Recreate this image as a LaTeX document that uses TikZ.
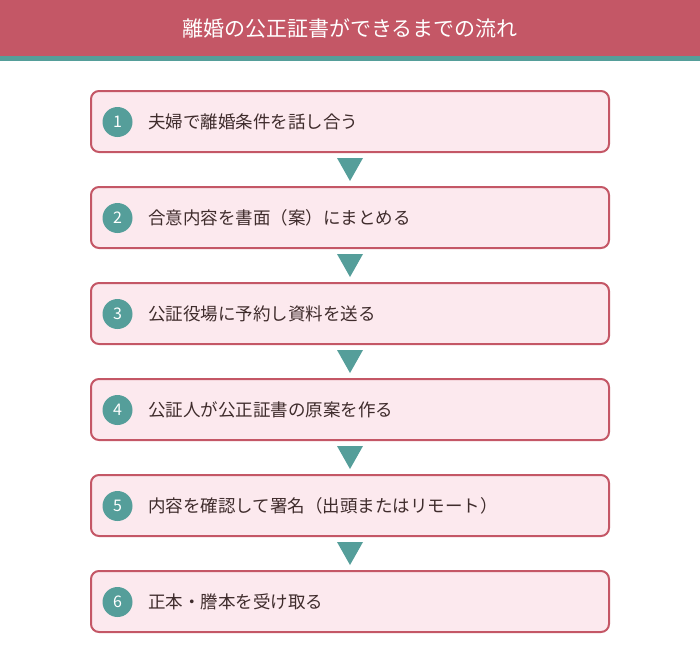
\documentclass[tikz,border=0pt]{standalone}
\usepackage{fontspec}
\setmainfont{Noto Sans CJK JP}
\definecolor{rose}{HTML}{C45766}
\definecolor{sea}{HTML}{559E9A}
\definecolor{blush}{HTML}{FCE9EE}
\definecolor{ink}{HTML}{3F2C2C}

\begin{document}
\begin{tikzpicture}[x=1pt,y=-1pt,
  box/.style={draw=rose,fill=blush,line width=2pt,rounded corners=8pt,minimum width=518pt,minimum height=61pt},
  num/.style={circle,fill=sea,minimum size=30pt,inner sep=0pt,text=white,font=\fontsize{16}{16}\selectfont},
  lbl/.style={anchor=west,inner sep=0pt,text=ink,font=\fontsize{17.5}{17.5}\selectfont},
  tri/.style={fill=sea}]
\useasboundingbox (0,0) rectangle (700,662);
\fill[rose] (0,0) rectangle (700,56);
\fill[sea] (0,56) rectangle (700,61);
\node[text=white,font=\fontsize{21}{21}\selectfont] (title) at (350,29) {離婚の公正証書ができるまでの流れ};
\node[box] (b1) at (350,121.5) {};
\node[box] (b2) at (350,217.5) {};
\node[box] (b3) at (350,313.5) {};
\node[box] (b4) at (350,409.5) {};
\node[box] (b5) at (350,505.5) {};
\node[box] (b6) at (350,601.5) {};
\node[num] (n1) at (117.5,122) {1};
\node[num] (n2) at (117.5,218) {2};
\node[num] (n3) at (117.5,314) {3};
\node[num] (n4) at (117.5,410) {4};
\node[num] (n5) at (117.5,506) {5};
\node[num] (n6) at (117.5,602) {6};
\node[lbl] (t1) at (148,122) {夫婦で離婚条件を話し合う};
\node[lbl] (t2) at (148,218) {合意内容を書面（案）にまとめる};
\node[lbl] (t3) at (148,314) {公証役場に予約し資料を送る};
\node[lbl] (t4) at (148,410) {公証人が公正証書の原案を作る};
\node[lbl] (t5) at (148,506) {内容を確認して署名（出頭またはリモート）};
\node[lbl] (t6) at (148,602) {正本・謄本を受け取る};
\fill[tri] ([xshift=-13pt,yshift=-5pt]b1.south) -- ([xshift=13pt,yshift=-5pt]b1.south) -- ([yshift=5pt]b2.north) -- cycle;
\fill[tri] ([xshift=-13pt,yshift=-5pt]b2.south) -- ([xshift=13pt,yshift=-5pt]b2.south) -- ([yshift=5pt]b3.north) -- cycle;
\fill[tri] ([xshift=-13pt,yshift=-5pt]b3.south) -- ([xshift=13pt,yshift=-5pt]b3.south) -- ([yshift=5pt]b4.north) -- cycle;
\fill[tri] ([xshift=-13pt,yshift=-5pt]b4.south) -- ([xshift=13pt,yshift=-5pt]b4.south) -- ([yshift=5pt]b5.north) -- cycle;
\fill[tri] ([xshift=-13pt,yshift=-5pt]b5.south) -- ([xshift=13pt,yshift=-5pt]b5.south) -- ([yshift=5pt]b6.north) -- cycle;
\end{tikzpicture}
\end{document}
